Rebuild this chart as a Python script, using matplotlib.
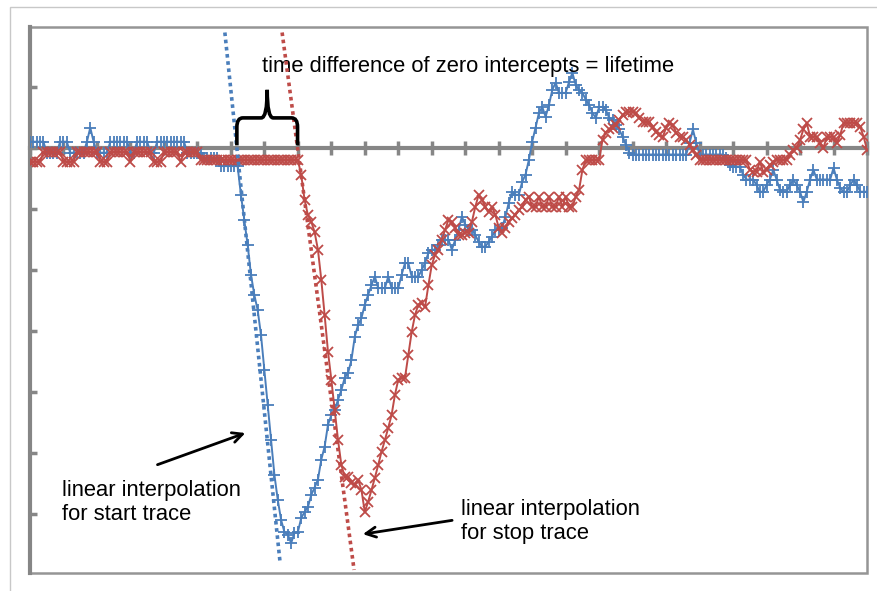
import numpy as np
import matplotlib
matplotlib.use("Agg")
import matplotlib.pyplot as plt
from matplotlib.path import Path
from matplotlib.patches import PathPatch, Rectangle

plt.rcParams["font.family"] = ["Liberation Sans", "DejaVu Sans"]

# start trace (blue, "+") and stop trace (red, "x"), one sample per time step
start_trace = [
    0.10, 0.10, 0.10, 0.10, 0.10, -0.08, -0.08, -0.08, -0.08, 0.10,
    0.10, 0.10, -0.08, -0.08, -0.08, -0.08, -0.08, 0.10, 0.33, 0.10,
    -0.08, -0.08, -0.08, -0.08, 0.10, 0.10, 0.10, 0.10, 0.10, 0.10,
    -0.08, -0.08, 0.10, 0.10, 0.10, 0.10, -0.08, -0.08, 0.10, 0.10,
    0.10, 0.10, 0.10, 0.10, 0.10, 0.10, 0.10, -0.08, -0.08, -0.08,
    -0.08, -0.08, -0.16, -0.16, -0.16, -0.16, -0.16, -0.30, -0.30, -0.30,
    -0.30, -0.30, -0.30, -0.77, -1.18, -1.59, -2.08, -2.41, -2.66, -3.07,
    -3.64, -4.21, -4.79, -5.36, -5.77, -6.10, -6.30, -6.34, -6.48, -6.31,
    -6.30, -6.07, -5.97, -5.89, -5.69, -5.57, -5.44, -5.11, -4.90, -4.54,
    -4.38, -4.30, -4.13, -3.97, -3.77, -3.69, -3.48, -3.10, -2.90, -2.79,
    -2.57, -2.41, -2.25, -2.11, -2.30, -2.30, -2.30, -2.11, -2.30, -2.30,
    -2.30, -2.08, -1.89, -1.89, -2.11, -2.11, -2.11, -2.00, -1.89, -1.72,
    -1.67, -1.67, -1.59, -1.51, -1.51, -1.51, -1.67, -1.51, -1.34, -1.13,
    -1.26, -1.34, -1.34, -1.43, -1.54, -1.62, -1.62, -1.54, -1.46, -1.34,
    -1.34, -1.31, -1.13, -0.90, -0.72, -0.77, -0.77, -0.56, -0.44, -0.20,
    0.10, 0.33, 0.57, 0.67, 0.51, 0.70, 0.95, 1.07, 0.90, 0.90,
    0.90, 1.08, 1.23, 1.03, 0.95, 0.90, 0.79, 0.70, 0.57, 0.49,
    0.67, 0.67, 0.62, 0.49, 0.46, 0.38, 0.30, 0.18, 0.05, -0.08,
    -0.11, -0.11, -0.11, -0.11, -0.11, -0.11, -0.11, -0.11, -0.11, -0.11,
    -0.11, -0.11, -0.11, -0.11, -0.11, -0.11, -0.11, 0.08, 0.30, 0.08,
    -0.11, -0.11, -0.11, -0.11, -0.11, -0.11, -0.11, -0.11, -0.16, -0.28,
    -0.31, -0.31, -0.31, -0.44, -0.52, -0.52, -0.52, -0.61, -0.72, -0.72,
    -0.61, -0.52, -0.36, -0.52, -0.69, -0.72, -0.72, -0.61, -0.52, -0.61,
    -0.72, -0.89, -0.72, -0.52, -0.36, -0.52, -0.52, -0.52, -0.52, -0.52,
    -0.33, -0.52, -0.66, -0.72, -0.72, -0.61, -0.52, -0.61, -0.72, -0.72,
    -0.72,
]

stop_trace = [
    -0.23, -0.23, -0.23, -0.23, -0.07, -0.07, -0.07, -0.07, -0.07, -0.07,
    -0.23, -0.23, -0.23, -0.23, -0.07, -0.07, -0.07, -0.07, -0.07, -0.07,
    -0.07, -0.23, -0.23, -0.23, -0.07, -0.07, -0.07, -0.07, -0.07, -0.07,
    -0.23, -0.07, -0.07, -0.07, -0.07, -0.07, -0.07, -0.23, -0.23, -0.23,
    -0.07, -0.07, -0.07, -0.07, -0.07, -0.23, -0.07, -0.07, -0.07, -0.07,
    -0.07, -0.20, -0.20, -0.20, -0.20, -0.20, -0.20, -0.20, -0.20, -0.20,
    -0.20, -0.20, -0.20, -0.20, -0.20, -0.20, -0.20, -0.20, -0.20, -0.20,
    -0.20, -0.20, -0.20, -0.20, -0.20, -0.20, -0.20, -0.20, -0.20, -0.20,
    -0.20, -0.44, -0.85, -1.10, -1.21, -1.38, -1.67, -2.16, -2.74, -3.34,
    -3.80, -4.30, -4.79, -5.20, -5.39, -5.39, -5.49, -5.52, -5.44, -5.61,
    -5.97, -5.80, -5.61, -5.41, -5.20, -4.98, -4.79, -4.59, -4.38, -4.05,
    -3.80, -3.77, -3.77, -3.39, -3.02, -2.74, -2.57, -2.54, -2.61, -2.25,
    -1.92, -1.75, -1.67, -1.51, -1.34, -1.18, -1.21, -1.31, -1.43, -1.43,
    -1.39, -1.39, -1.21, -0.97, -0.77, -0.85, -0.97, -1.05, -0.97, -1.10,
    -1.31, -1.39, -1.31, -1.21, -1.15, -1.10, -1.02, -0.97, -0.85, -0.80,
    -0.97, -0.97, -0.80, -0.97, -0.97, -0.80, -0.97, -0.97, -0.80, -0.97,
    -0.80, -0.97, -0.97, -0.80, -0.69, -0.36, -0.20, -0.20, -0.20, -0.20,
    -0.20, 0.13, 0.25, 0.30, 0.33, 0.38, 0.46, 0.54, 0.59, 0.59,
    0.59, 0.57, 0.49, 0.43, 0.43, 0.43, 0.34, 0.26, 0.21, 0.18,
    0.33, 0.41, 0.38, 0.25, 0.18, 0.18, 0.13, 0.05, -0.03, -0.11,
    -0.20, -0.20, -0.20, -0.20, -0.20, -0.20, -0.20, -0.20, -0.20, -0.20,
    -0.20, -0.20, -0.20, -0.20, -0.20, -0.36, -0.39, -0.39, -0.23, -0.39,
    -0.36, -0.28, -0.23, -0.20, -0.20, -0.20, -0.20, -0.11, -0.03, 0.00,
    0.13, 0.30, 0.41, 0.18, 0.18, 0.18, 0.08, 0.00, 0.18, 0.18,
    0.18, 0.08, 0.21, 0.41, 0.41, 0.41, 0.41, 0.41, 0.34, 0.18,
    -0.03,
]

# end points of the dotted linear fits through the falling edges
fit_start_t = [58.2, 74.7]
fit_start_v = [1.89, -6.80]
fit_stop_t = [75.3, 96.8]
fit_stop_v = [1.89, -6.92]

BLUE = "#4a7ebb"
RED = "#be4b48"
GRAY = "#868686"

t = np.arange(len(start_trace))

fig = plt.figure(figsize=(8.78, 5.91), dpi=100)
ax = fig.add_axes([30 / 878, 1 - 573 / 591, 837 / 878, 546 / 591])

ax.plot(t, start_trace, color=BLUE, lw=1.4, marker="+", ms=8, mew=1.3, zorder=3)
ax.plot(t, stop_trace, color=RED, lw=1.4, marker="x", ms=6.5, mew=1.3, zorder=3)
ax.plot(fit_start_t, fit_start_v, color=BLUE, lw=2.6, ls=(0, (1, 1)), zorder=4)
ax.plot(fit_stop_t, fit_stop_v, color=RED, lw=2.6, ls=(0, (1, 1)), zorder=4)

ax.set_xlim(0, 250)
ax.set_ylim(-6.97, 1.98)
ax.set_xticks(np.arange(0, 251, 10))
ax.set_yticks(np.arange(-6, 2, 1))
ax.set_xticklabels([])
ax.set_yticklabels([])

for side in ["top", "right"]:
    ax.spines[side].set_visible(False)
ax.spines["left"].set_color(GRAY)
ax.spines["left"].set_linewidth(3)
ax.spines["bottom"].set_position(("data", 0))
ax.spines["bottom"].set_color(GRAY)
ax.spines["bottom"].set_linewidth(3)
ax.spines["left"].set_zorder(2)
ax.spines["bottom"].set_zorder(2)
ax.tick_params(axis="y", direction="in", length=5, width=2.5, color=GRAY)
ax.tick_params(axis="x", direction="inout", length=10, width=2.5, color=GRAY)

# plot area border
ax.add_patch(Rectangle((0, 0), 1, 1, transform=ax.transAxes, fill=False,
                       edgecolor="#959595", lw=1.8, zorder=1, clip_on=False))
# chart area border
fig.patches.append(Rectangle((10 / 878, -0.05), 1.0, 1.0 - 7 / 591 + 0.05,
                             transform=fig.transFigure, fill=False,
                             edgecolor="#c8c8c8", lw=1.0))

# brace between the two zero intercepts
x0 = fit_start_t[0] - fit_start_v[0] * (fit_start_t[1] - fit_start_t[0]) / (fit_start_v[1] - fit_start_v[0])
x1 = fit_stop_t[0] - fit_stop_v[0] * (fit_stop_t[1] - fit_stop_t[0]) / (fit_stop_v[1] - fit_stop_v[0])
xm = (x0 + x1) / 2
h1, h2, rx, ry = 0.49, 0.95, 1.8, 0.15
verts = [(x0, 0.04), (x0, h1 - ry), (x0, h1), (x0 + rx, h1), (xm - rx, h1), (xm, h1), (xm, h2),
         (xm, h1), (xm + rx, h1), (x1 - rx, h1), (x1, h1), (x1, h1 - ry), (x1, 0.04)]
codes = [Path.MOVETO, Path.LINETO, Path.CURVE3, Path.CURVE3, Path.LINETO, Path.CURVE3, Path.CURVE3,
         Path.CURVE3, Path.CURVE3, Path.LINETO, Path.CURVE3, Path.CURVE3, Path.LINETO]
ax.add_patch(PathPatch(Path(verts, codes), fill=False, edgecolor="black", lw=2.6, zorder=5))

ax.text(69.3, 1.34, "time difference of zero intercepts = lifetime", fontsize=15.8,
        va="center", ha="left")
ax.text(9.6, -5.44, "linear interpolation\nfor start trace", fontsize=15.8,
        va="top", ha="left", linespacing=1.2)
ax.text(128.8, -5.76, "linear interpolation\nfor stop trace", fontsize=15.8,
        va="top", ha="left", linespacing=1.2)

ax.annotate("", xy=(65.1, -4.66), xytext=(37.3, -5.21),
            arrowprops=dict(arrowstyle="->", color="black", lw=2, mutation_scale=18))
ax.annotate("", xy=(98.6, -6.34), xytext=(126.9, -6.10),
            arrowprops=dict(arrowstyle="->", color="black", lw=2, mutation_scale=18))

plt.savefig("out.png", dpi=100)
